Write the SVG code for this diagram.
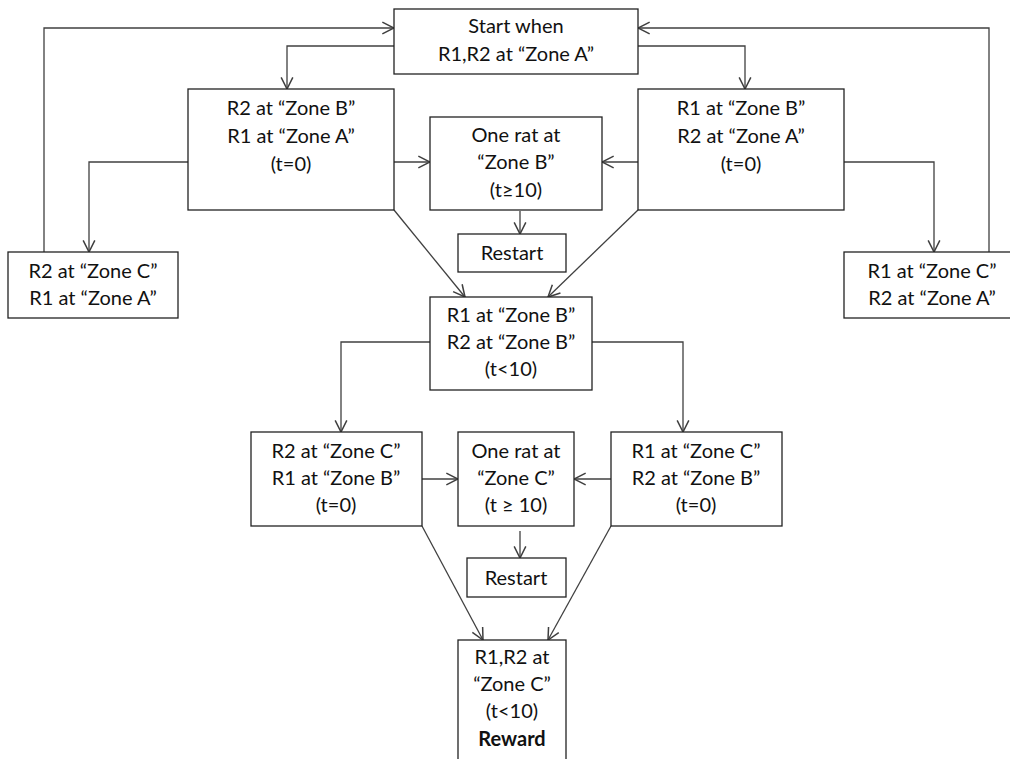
<svg xmlns="http://www.w3.org/2000/svg" width="1010" height="759" viewBox="0 0 1010 759">
<defs>
<marker id="ah" markerUnits="userSpaceOnUse" markerWidth="14" markerHeight="14" viewBox="-1 -1 12 12" refX="10" refY="5" orient="auto">
<path d="M0,0 L10,5 L0,10" fill="none" stroke="#404040" stroke-width="1.3"/>
</marker>
</defs>
<style>
rect{fill:#fff;stroke:#222;stroke-width:1.3}
text{font-family:Lato,"Liberation Sans",sans-serif;font-size:20px;fill:#111;text-anchor:middle}
.b{font-weight:bold}
#connectors path{fill:none;stroke:#404040;stroke-width:1.3;marker-end:url(#ah)}
</style>
<rect x="0" y="0" width="1010" height="759" style="fill:#fff;stroke:none"/>
<g id="connectors">
<path d="M394,46 H287 V89"/>
<path d="M638,46 H745 V89"/>
<path d="M188,162 H89 V252"/>
<path d="M394,162 H430"/>
<path d="M638,162 H602"/>
<path d="M844,162 H934 V252"/>
<path d="M44,252 V28 H394"/>
<path d="M989,252 V28 H638"/>
<path d="M520,211 V234"/>
<path d="M394,210 L465,297"/>
<path d="M638,210 L548,297"/>
<path d="M430,342 H341 V432"/>
<path d="M592,342 H683 V432"/>
<path d="M422,479 H458"/>
<path d="M611,479 H574"/>
<path d="M520,531 V558"/>
<path d="M422,526 L483,640"/>
<path d="M611,526 L548,640"/>
</g>
<g id="start">
<rect x="394" y="9" width="244" height="65"/>
<text x="516" y="33">Start when</text>
<text x="516" y="61">R1,R2 at “Zone A”</text>
</g>
<g id="r2b_r1a">
<rect x="188" y="89" width="206" height="121"/>
<text x="291" y="115">R2 at “Zone B”</text>
<text x="291" y="143">R1 at “Zone A”</text>
<text x="291" y="171">(t=0)</text>
</g>
<g id="r1b_r2a">
<rect x="638" y="89" width="206" height="121"/>
<text x="741" y="115">R1 at “Zone B”</text>
<text x="741" y="143">R2 at “Zone A”</text>
<text x="741" y="171">(t=0)</text>
</g>
<g id="onerat_b">
<rect x="430" y="117" width="172" height="93"/>
<text x="516" y="142">One rat at</text>
<text x="516" y="169">“Zone B”</text>
<text x="516" y="197">(t≥10)</text>
</g>
<g id="restart1">
<rect x="458" y="234" width="108" height="38"/>
<text x="512" y="260">Restart</text>
</g>
<g id="r2c_r1a">
<rect x="8" y="252" width="170" height="66"/>
<text x="93" y="278">R2 at “Zone C”</text>
<text x="93" y="305">R1 at “Zone A”</text>
</g>
<g id="r1c_r2a">
<rect x="844" y="252" width="176" height="66"/>
<text x="932" y="278">R1 at “Zone C”</text>
<text x="932" y="305">R2 at “Zone A”</text>
</g>
<g id="r1b_r2b">
<rect x="430" y="297" width="162" height="93"/>
<text x="511" y="322">R1 at “Zone B”</text>
<text x="511" y="349">R2 at “Zone B”</text>
<text x="511" y="376">(t&lt;10)</text>
</g>
<g id="r2c_r1b">
<rect x="251" y="432" width="171" height="94"/>
<text x="336" y="458">R2 at “Zone C”</text>
<text x="336" y="485">R1 at “Zone B”</text>
<text x="336" y="512">(t=0)</text>
</g>
<g id="onerat_c">
<rect x="458" y="432" width="116" height="94"/>
<text x="516" y="458">One rat at</text>
<text x="516" y="485">“Zone C”</text>
<text x="516" y="512">(t ≥ 10)</text>
</g>
<g id="r1c_r2b">
<rect x="611" y="432" width="171" height="94"/>
<text x="696" y="458">R1 at “Zone C”</text>
<text x="696" y="485">R2 at “Zone B”</text>
<text x="696" y="512">(t=0)</text>
</g>
<g id="restart2">
<rect x="467" y="558" width="99" height="39"/>
<text x="516" y="585">Restart</text>
</g>
<g id="reward">
<rect x="458" y="640" width="108" height="130"/>
<text x="512" y="664">R1,R2 at</text>
<text x="512" y="691">“Zone C”</text>
<text x="512" y="718">(t&lt;10)</text>
<text x="512" y="746" class="b">Reward</text>
</g>
</svg>
